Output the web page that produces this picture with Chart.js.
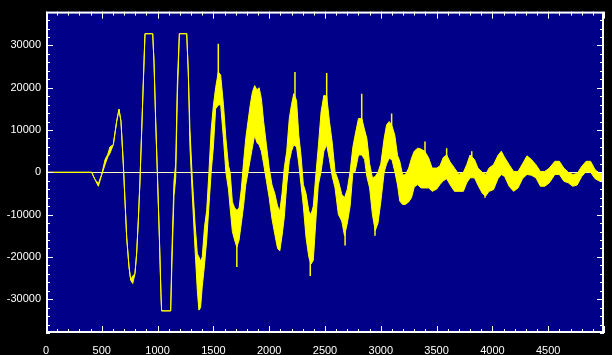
<!DOCTYPE html>
<html><head><meta charset="utf-8">
<script src="https://cdn.jsdelivr.net/npm/chart.js@4"></script>
<style>html,body{margin:0;padding:0;background:#000;}canvas{display:block;}</style>
</head><body>
<canvas id="c" width="612" height="355"></canvas>
<script>
// sample positions (x axis units)
const sampleT = [0,400,409,439,469,499,529,553,573,603,633,654,672,693,708,723,744,759,777,797,812,827,842,857,872,887,956,968,983,998,1016,1030,1036,1117,1129,1147,1162,1177,1195,1261,1275,1290,1311,1335,1356,1370,1385,1400,1420,1440,1460,1480,1500,1520,1544,1565,1590,1612,1635,1650,1670,1690,1710,1730,1750,1770,1790,1810,1830,1850,1870,1890,1910,1930,1950,1975,2000,2025,2050,2075,2095,2115,2135,2157,2180,2200,2220,2245,2265,2285,2306,2330,2355,2375,2395,2420,2440,2465,2490,2515,2540,2565,2590,2620,2650,2675,2700,2725,2750,2770,2800,2830,2855,2875,2900,2925,2950,2975,3000,3030,3052,3075,3100,3125,3150,3170,3195,3220,3250,3275,3300,3330,3360,3396,3430,3460,3500,3530,3560,3590,3620,3660,3700,3740,3770,3800,3840,3870,3910,3940,3970,4010,4050,4080,4110,4150,4190,4230,4270,4310,4350,4390,4430,4470,4510,4560,4600,4640,4680,4720,4760,4800,4840,4880,4920,4960,5000];
// upper envelope of the trace
const upperEnv = [0,0,0,-1700,-2700,-500,3000,4200,6000,6500,12000,14900,12000,1800,-6800,-15400,-22400,-25500,-24500,-24000,-19300,-11500,-2100,9600,21300,32767,32767,26000,12000,0,-15400,-28700,-32768,-32768,-18000,-2000,2000,21000,32767,32767,23700,10000,-1500,-12000,-19300,-20000,-21000,-20000,-13000,-9000,0,10000,15800,20000,23700,23000,16000,8000,1600,0,-7000,-8400,-9000,-8400,-4000,2300,8000,12000,15900,19000,20500,19500,20000,17400,12000,6500,1000,-3000,-5000,-8000,-9200,-5000,1000,5000,12700,16000,18600,17000,8800,4000,-2900,-5000,-9200,-10000,-8000,0,6000,14300,18200,18000,12000,7000,200,-2000,-5200,-6000,-4000,200,6000,8800,12700,12700,10000,8000,2000,-1300,-1000,0,2000,8000,11200,12000,11000,8800,4000,2600,-600,-600,1000,3300,5000,5700,5500,4900,3300,1000,1000,1500,3500,4100,2500,1000,-500,0,1800,4100,3000,1000,0,-500,1000,1800,4000,5000,3500,1800,200,200,2000,3900,3000,1800,200,200,1000,2600,2600,1000,0,-500,-300,1400,2600,2600,600,-200,-500];
// lower envelope of the trace
const lowerEnv = [0,0,0,-1700,-3300,-600,1800,3600,4500,6500,12000,14900,12000,1800,-6800,-15400,-22400,-25500,-26300,-24000,-19300,-11500,-2100,9600,21300,32767,32767,26000,12000,-500,-15400,-28700,-32768,-32768,-21000,-5500,-1500,18000,32767,32767,23700,6000,-5500,-18000,-28000,-32600,-32000,-27000,-22000,-16000,-8000,0,6000,15000,15900,16000,8000,0,-4000,-8400,-14000,-16000,-17700,-16000,-12100,-8000,-3000,0,3000,6000,8800,7000,6500,5000,2000,-2000,-6000,-11000,-14600,-18000,-18600,-15000,-10700,-3000,2600,5000,6500,6000,2000,-2900,-8000,-15400,-20000,-21700,-20800,-10700,-3000,200,5000,6500,3000,-1000,-3700,-10000,-11500,-15000,-12000,-8000,0,200,4100,4100,3000,-1000,-3700,-10000,-13800,-12000,-7000,0,2000,3300,3000,200,-3000,-6800,-7600,-7600,-7000,-6000,-3500,-2900,-3700,-3700,-3700,-4500,-4000,-2900,-2000,-1500,-2900,-4500,-4500,-4500,-2500,-1300,-1300,-3000,-5000,-5600,-4500,-4100,-1500,-500,-1000,-3300,-4500,-3700,-1500,-500,-700,-1300,-3300,-3300,-2500,-500,-500,-2100,-2500,-3300,-3000,-1000,200,0,-1500,-2100,-2100];
// isolated spikes reaching out of the band: position, band edge, spike tip
const spikeT    = [1544,1710,2231,2368,2515,2680,2829,2948,3097,3396,3590,3815,3934];
const spikeBase = [23000,-17000,17000,-20000,17000,-14000,12000,-12000,11000,4500,3500,3500,-4500];
const spikeTip  = [30400,-22400,23700,-24500,23500,-17300,18600,-15000,13900,7300,5700,5000,-6000];
const xTickLabels = [0,500,1000,1500,2000,2500,3000,3500,4000,4500];
const yTickLabels = [-30000,-20000,-10000,0,10000,20000,30000];

const YELLOW = '#ffff00';
const upperPts = sampleT.map((t,i)=>({x:t,y:upperEnv[i]}));
const lowerPts = sampleT.map((t,i)=>({x:t,y:lowerEnv[i]}));
const spikePts = [];
spikeT.forEach((t,i)=>{ spikePts.push({x:t,y:spikeBase[i]},{x:t,y:spikeTip[i]},{x:t,y:null}); });

const bgPlugin = {
  id:'bg',
  beforeDraw(chart){
    const {ctx, chartArea:a} = chart;
    ctx.save();
    ctx.fillStyle='#000'; ctx.fillRect(0,0,chart.width,chart.height);
    ctx.fillStyle='#000088'; ctx.fillRect(a.left,a.top,a.right-a.left,a.bottom-a.top);
    ctx.restore();
  }
};
const framePlugin = {
  id:'frame',
  afterDraw(chart){
    const {ctx, chartArea:a, scales:{x,y}} = chart;
    ctx.save();
    ctx.strokeStyle='#ffffff';
    ctx.lineWidth=2;
    ctx.strokeRect(a.left+1,a.top+1,a.right-a.left-2,a.bottom-a.top-2);
    ctx.lineWidth=1;
    ctx.beginPath();
    x.ticks.forEach(t=>{
      const px=Math.round(x.getPixelForValue(t.value))+0.5;
      const L = xTickLabels.includes(t.value)||t.value===5000 ? 7 : 4;
      ctx.moveTo(px,a.bottom); ctx.lineTo(px,a.bottom-L);
      ctx.moveTo(px,a.top); ctx.lineTo(px,a.top+L);
    });
    y.ticks.forEach(t=>{
      const py=Math.round(y.getPixelForValue(t.value))+0.5;
      const L = yTickLabels.includes(t.value) ? 7 : 4;
      ctx.moveTo(a.left,py); ctx.lineTo(a.left+L,py);
      ctx.moveTo(a.right,py); ctx.lineTo(a.right-L,py);
    });
    ctx.stroke();
    ctx.restore();
  }
};

new Chart(document.getElementById('c'),{
  type:'line',
  data:{datasets:[
    {data:upperPts,borderColor:YELLOW,backgroundColor:YELLOW,borderWidth:1,fill:'+1',pointRadius:0,tension:0},
    {data:lowerPts,borderColor:YELLOW,backgroundColor:YELLOW,borderWidth:1,fill:false,pointRadius:0,tension:0},
    {data:spikePts,borderColor:YELLOW,borderWidth:1.5,fill:false,pointRadius:0,tension:0,spanGaps:false}
  ]},
  options:{
    responsive:false,animation:false,devicePixelRatio:1,
    layout:{padding:{top:9,right:8,left:0,bottom:0}},
    plugins:{legend:{display:false},tooltip:{enabled:false}},
    scales:{
      x:{type:'linear',min:0,max:5000,offset:false,
        afterFit(s){s.height=22;},
        border:{display:false},
        grid:{display:false},
        ticks:{stepSize:100,autoSkip:false,maxRotation:0,color:'#fff',padding:3,
          font:{family:'Liberation Sans',size:11},
          callback:v=>xTickLabels.includes(v)?String(v):''}},
      y:{type:'linear',min:-38000,max:38000,
        afterFit(s){s.width=46;},
        border:{display:false},
        grid:{drawTicks:false,color:c=>c.tick&&c.tick.value===0?'#ffffc0':'rgba(0,0,0,0)',lineWidth:1},
        ticks:{stepSize:2000,autoSkip:false,color:'#fff',padding:5,
          font:{family:'Liberation Sans',size:11},
          callback:v=>yTickLabels.includes(v)?String(v):''}}
    }
  },
  plugins:[bgPlugin,framePlugin]
});
</script>
</body></html>
